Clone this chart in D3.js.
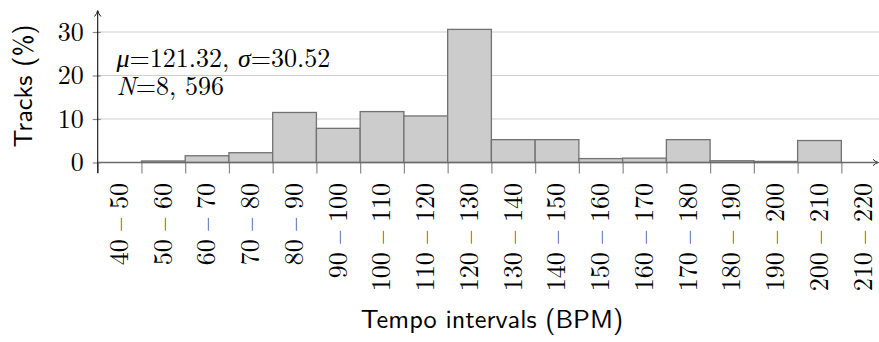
<!DOCTYPE html>
<html>
<head>
<meta charset="utf-8">
<script src="https://cdn.jsdelivr.net/npm/d3@7"></script>
<style>
  html, body { margin: 0; padding: 0; background: #fff; }
  svg { display: block; }
  .serif { font-family: "Latin Modern Roman", "Liberation Serif", serif; }
  .sans { font-family: "Latin Modern Sans", "Liberation Sans", sans-serif; }
</style>
</head>
<body>
<svg id="chart" width="879" height="342"></svg>
<script>
// Tempo histogram: share of tracks per 10-BPM interval
const binStarts = [40, 50, 60, 70, 80, 90, 100, 110, 120, 130, 140, 150, 160, 170, 180, 190, 200, 210];
const binLabels = ["40 – 50", "50 – 60", "60 – 70", "70 – 80", "80 – 90", "90 – 100",
  "100 – 110", "110 – 120", "120 – 130", "130 – 140", "140 – 150", "150 – 160",
  "160 – 170", "170 – 180", "180 – 190", "190 – 200", "200 – 210", "210 – 220"];
const tracksPct = [0, 0.35, 1.55, 2.25, 11.5, 7.85, 11.7, 10.7, 30.6, 5.25, 5.25, 0.9,
  1.0, 5.25, 0.4, 0.25, 5.05, 0];
const yTicks = [0, 10, 20, 30];
const binWidth = 10;

const svg = d3.select("#chart");
const W = 879;

const x = d3.scaleLinear().domain([40, 220]).range([97.7, 885.1]);
const y = d3.scaleLinear().domain([0, 30]).range([162.5, 32]);
const band = d3.scaleBand().domain(binLabels).range([x(40), x(220)]).padding(0);

// horizontal grid
svg.append("g")
  .selectAll("line")
  .data(yTicks.filter(d => d > 0))
  .join("line")
  .attr("x1", x(40)).attr("x2", W)
  .attr("y1", d => y(d)).attr("y2", d => y(d))
  .attr("stroke", "#cfcfcf").attr("stroke-width", 1.2);

// bars (empty intervals draw nothing)
const bins = binStarts.map((s, i) => ({ start: s, value: tracksPct[i] }));
svg.append("g")
  .selectAll("rect")
  .data(bins.filter(b => b.value > 0))
  .join("rect")
  .attr("x", b => x(b.start))
  .attr("width", b => x(b.start + binWidth) - x(b.start))
  .attr("y", b => y(b.value))
  .attr("height", b => y(0) - y(b.value))
  .attr("fill", "#cccccc")
  .attr("stroke", "#727272")
  .attr("stroke-width", 1.3);

// x ticks at the interval edges
const edges = binStarts.concat([binStarts[binStarts.length - 1] + binWidth]);
const xEdgeAxis = svg.append("g")
  .attr("transform", `translate(0,${y(0)})`)
  .call(d3.axisBottom(x).tickValues(edges).tickSize(11).tickFormat(""));
xEdgeAxis.select(".domain").remove();
xEdgeAxis.selectAll(".tick line").attr("stroke", "#8a8a8a").attr("stroke-width", 1.2);

// x axis line with arrow
svg.append("line")
  .attr("x1", x(40)).attr("x2", 877)
  .attr("y1", y(0)).attr("y2", y(0))
  .attr("stroke", "#6a6a6a").attr("stroke-width", 1.4);
svg.append("path")
  .attr("d", `M${873},${y(0) - 3.2} Q${875.5},${y(0) - 0.6} ${878.5},${y(0)} Q${875.5},${y(0) + 0.6} ${873},${y(0) + 3.2}`)
  .attr("fill", "none").attr("stroke", "#333").attr("stroke-width", 1);

// interval labels, rotated, centred on each bar
const xLabelAxis = svg.append("g")
  .attr("transform", `translate(0,${y(0)})`)
  .call(d3.axisBottom(band).tickSize(0));
xLabelAxis.attr("font-family", null).attr("font-size", null);
xLabelAxis.select(".domain").remove();
xLabelAxis.selectAll("text")
  .attr("class", "serif")
  .attr("transform", "rotate(-90)")
  .attr("text-anchor", "end")
  .attr("x", -20.5)
  .attr("y", 0)
  .attr("dy", "0.32em")
  .style("font-size", "26px")
  .attr("fill", "#000");

// y axis
const yAxis = svg.append("g")
  .attr("transform", `translate(${x(40)},0)`)
  .call(d3.axisLeft(y).tickValues(yTicks).tickSize(5).tickPadding(9));
yAxis.attr("font-family", null).attr("font-size", null);
yAxis.select(".domain").remove();
yAxis.selectAll(".tick line").attr("stroke", "#8a8a8a").attr("stroke-width", 1.2);
yAxis.selectAll(".tick").append("line")
  .attr("x1", 0).attr("x2", 3)
  .attr("stroke", "#8a8a8a").attr("stroke-width", 1.2);
yAxis.selectAll("text")
  .attr("class", "serif")
  .style("font-size", "26px")
  .attr("dy", "0.32em")
  .attr("fill", "#000");

svg.append("line")
  .attr("x1", x(40)).attr("x2", x(40))
  .attr("y1", 173).attr("y2", 11.5)
  .attr("stroke", "#111").attr("stroke-width", 1.1);
svg.append("path")
  .attr("d", `M${x(40) - 3.2},16.5 Q${x(40) - 0.6},13.5 ${x(40)},10.5 Q${x(40) + 0.6},13.5 ${x(40) + 3.2},16.5`)
  .attr("fill", "none").attr("stroke", "#111").attr("stroke-width", 1);

// axis titles
svg.append("text")
  .attr("class", "sans")
  .attr("transform", "translate(32,86) rotate(-90)")
  .attr("text-anchor", "middle")
  .style("font-size", "26.3px")
  .text("Tracks (%)");

svg.append("text")
  .attr("class", "sans")
  .attr("x", 492).attr("y", 328)
  .attr("text-anchor", "middle")
  .style("font-size", "26.3px")
  .text("Tempo intervals (BPM)");

// summary statistics, two lines in one text block
const stats = svg.append("text")
  .attr("class", "serif")
  .style("font-size", "26px")
  .attr("x", 116.5).attr("y", 66.5);
stats.append("tspan").style("font-style", "italic").text("μ");
stats.append("tspan").text("=121.32, ");
stats.append("tspan").style("font-style", "italic").text("σ");
stats.append("tspan").text("=30.52");
stats.append("tspan").attr("x", 116.5).attr("y", 95).style("font-style", "italic").text("N");
stats.append("tspan").text("=8, 596");
</script>
</body>
</html>
